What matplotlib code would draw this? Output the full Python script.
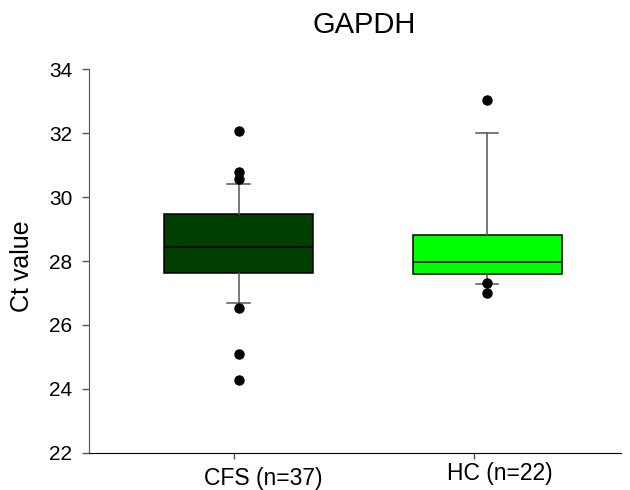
import matplotlib
matplotlib.use("Agg")
import matplotlib.pyplot as plt

plt.rcParams['font.family'] = ['Liberation Sans', 'DejaVu Sans']

# box statistics
groups = ["CFS (n=37)", "HC (n=22)"]
box_colors = ["#003f00", "#00ff00"]
q1 = [27.61, 27.59]
medians = [28.43, 27.96]
q3 = [29.47, 28.82]
whisker_low = [26.69, 27.29]
whisker_high = [30.41, 32.00]
outliers = [
	[32.07, 30.79, 30.58, 26.54, 25.08, 24.28],
	[33.04, 27.30, 26.99],
]

box_pos = [1.0, 2.0]
tick_pos = [0.982, 1.948]
label_pos = [1.099, 2.052]
label_y = [-0.085, -0.0712]

stats = []
for i in range(len(groups)):
	stats.append({
		"label": groups[i],
		"q1": q1[i],
		"med": medians[i],
		"q3": q3[i],
		"whislo": whisker_low[i],
		"whishi": whisker_high[i],
		"fliers": outliers[i],
	})

fig = plt.figure(figsize=(6.3, 4.9), dpi=100)
ax = fig.add_axes([89/630, 37.3/490, 532/630, 383.4/490])

bp = ax.bxp(stats, positions=box_pos, widths=0.6, capwidths=0.092,
	patch_artist=True, manage_ticks=False,
	boxprops=dict(edgecolor="black", linewidth=1.1),
	medianprops=dict(color="black", linewidth=1.1),
	whiskerprops=dict(color="#555555", linewidth=1.1),
	capprops=dict(color="#555555", linewidth=1.1),
	flierprops=dict(marker="o", markerfacecolor="black", markeredgecolor="black", markersize=6.5))
for patch, c in zip(bp["boxes"], box_colors):
	patch.set_facecolor(c)

ax.set_xlim(0.398, 2.539)
ax.set_ylim(22, 34)
ax.set_yticks([22, 24, 26, 28, 30, 32, 34])
ax.set_xticks(tick_pos)
ax.set_xticklabels(["", ""])
ax.tick_params(axis="y", direction="out", length=5, width=1, color="#555555", pad=7, labelsize=15)
ax.tick_params(axis="x", direction="out", length=4, width=1, color="#555555")

ax.spines["top"].set_visible(False)
ax.spines["right"].set_visible(False)
ax.spines["left"].set_color("#555555")
ax.spines["bottom"].set_color("black")

for x, y, lab in zip(label_pos, label_y, groups):
	ax.text(x, y, lab, transform=ax.get_xaxis_transform(), ha="center", va="baseline", fontsize=16.5)

fig.text(364/630, 1 - 33/490, "GAPDH", ha="center", va="baseline", fontsize=21)
fig.text(22.5/630, 1 - 266/490, "Ct value", rotation=90, ha="center", va="center", fontsize=18)

fig.savefig("out.png", dpi=100)
